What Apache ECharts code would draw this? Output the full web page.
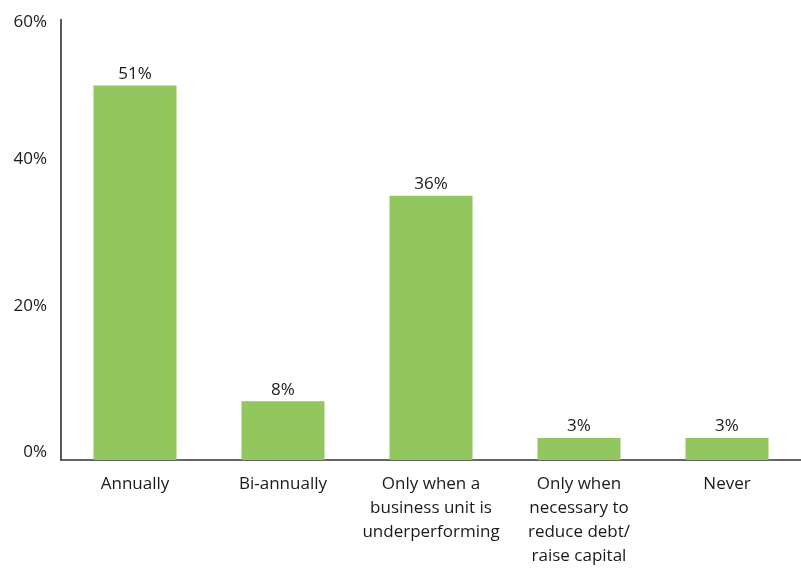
<!DOCTYPE html>
<html><head><meta charset="utf-8">
<script src="https://cdn.jsdelivr.net/npm/echarts@6/dist/echarts.min.js"></script>
<style>html,body{margin:0;padding:0;background:#fff;overflow:hidden}#c{width:801px;height:568px}</style>
</head><body><div id="c"></div>
<script>
var categories = ["Annually", "Bi-annually", "Only when a\nbusiness unit is\nunderperforming", "Only when\nnecessary to\nreduce debt/\nraise capital", "Never"];
var values = [51, 8, 36, 3, 3];
var yTicks = [0, 20, 40, 60];

var yMax = yTicks[yTicks.length - 1];
var txt = { color: '#1a1a1a', fontSize: 17, fontFamily: 'Open Sans' };

var chart = echarts.init(document.getElementById('c'));
chart.setOption({
  animation: false,
  grid: { left: 61, top: 19.5, right: -5, bottom: 103, containLabel: false },
  xAxis: {
    type: 'category', data: categories,
    axisLine: { lineStyle: { color: '#333', width: 1.5 } },
    axisTick: { show: false },
    axisLabel: { interval: 0, margin: 12, color: '#1a1a1a', fontSize: 17, lineHeight: 24, fontFamily: 'Open Sans' }
  },
  yAxis: {
    type: 'value', min: yTicks[0], max: yMax, interval: 20,
    splitLine: { show: false },
    axisLine: { show: true, lineStyle: { color: '#222', width: 1.5 } },
    axisTick: { show: false },
    axisLabel: {
      margin: 14, color: '#1a1a1a', fontSize: 17, fontFamily: 'Open Sans',
      formatter: function (v) {
        return v === yMax ? '{s| }\n{t|' + v + '%}' : '{t|' + v + '%}\n{b| }';
      },
      rich: {
        t: Object.assign({ lineHeight: 18 }, txt),
        s: { fontSize: 4, lineHeight: 6 },
        b: { fontSize: 4, lineHeight: 15 }
      }
    }
  },
  series: [{
    type: 'bar', data: values, barWidth: 83,
    itemStyle: { color: '#92c65e' },
    label: { show: true, position: 'top', distance: 3, color: '#1a1a1a', fontSize: 17, fontFamily: 'Open Sans', formatter: '{c}%' }
  }]
});
</script></body></html>
